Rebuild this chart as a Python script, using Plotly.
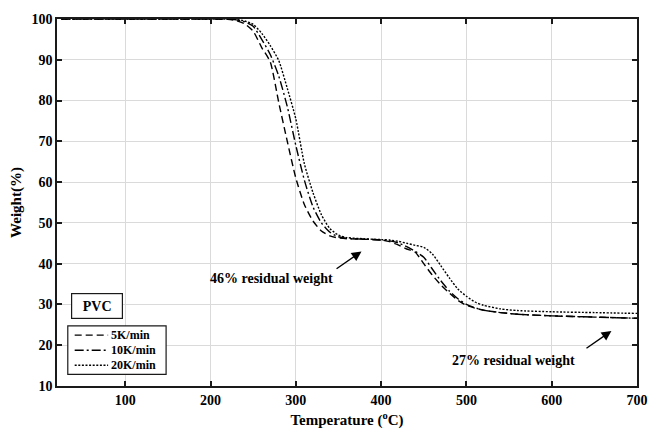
import plotly.graph_objects as go

# TGA curves of PVC at three heating rates
temperature = [25, 100, 200, 220, 230, 240, 250, 260, 270, 280, 290, 300, 310, 320,
               330, 340, 350, 360, 380, 400, 410, 420, 430, 440, 450, 460, 470, 480,
               490, 500, 510, 520, 540, 560, 600, 650, 700]

weight_5k = [100, 100, 100, 99.9, 99.6, 98.8, 97.0, 93.0, 89.5, 79.5, 70.0, 61.0, 54.5, 50.5,
             48.0, 46.8, 46.3, 46.1, 46.0, 45.8, 45.4, 44.6, 43.6, 42.8, 40.0, 37.2, 34.8, 32.8,
             31.0, 29.8, 29.1, 28.6, 28.0, 27.6, 27.2, 26.9, 26.6]

weight_10k = [100, 100, 100, 100, 99.8, 99.3, 98.2, 95.0, 91.3, 86.0, 78.5, 69.0, 60.5, 54.0,
              50.0, 47.7, 46.6, 46.2, 46.0, 45.8, 45.6, 45.1, 44.2, 43.0, 41.6, 38.7, 35.8, 33.3,
              31.4, 30.0, 29.2, 28.6, 28.0, 27.6, 27.2, 26.9, 26.6]

weight_20k = [100, 100, 100, 100, 99.9, 99.5, 98.7, 96.5, 93.5, 89.8, 83.0, 75.5, 64.5, 57.5,
              52.0, 48.6, 47.0, 46.4, 46.1, 45.9, 45.8, 45.5, 45.0, 44.5, 44.0, 42.4, 39.5, 36.5,
              33.8, 32.0, 30.6, 29.8, 28.9, 28.5, 28.2, 28.0, 27.8]

rate_labels = ["5K/min", "10K/min", "20K/min"]
dash_styles = ["7px,4px", "9px,3px,2px,3px", "2px,1.6px"]
weights = [weight_5k, weight_10k, weight_20k]

FONT = "Liberation Serif, Times New Roman, serif"
BOLD = lambda size: dict(family=FONT, size=size, color="black", weight="bold")

fig = go.Figure()
for name, w, dash in zip(rate_labels, weights, dash_styles):
    fig.add_trace(go.Scatter(
        x=temperature, y=w, mode="lines", name=name, showlegend=False,
        line=dict(color="black", width=1.4, dash=dash, shape="spline", smoothing=0.6),
    ))

axis_common = dict(
    showline=True, linecolor="#1a1a1a", linewidth=1.5, mirror="ticks",
    ticks="inside", ticklen=5, tickcolor="#1a1a1a", tickwidth=1.5,
    showgrid=True, gridcolor="#dadada", gridwidth=1, zeroline=False,
    tickfont=BOLD(14),
)

fig.update_xaxes(
    range=[20, 700], tickmode="array", tickvals=[100, 200, 300, 400, 500, 600, 700],
    title=dict(text="Temperature (<sup>o</sup>C)", standoff=8, font=BOLD(15)),
    **axis_common,
)
fig.update_yaxes(
    range=[10, 100], dtick=10, tick0=10,
    title=dict(text="Weight(%)", standoff=6, font=BOLD(15)),
    **axis_common,
)

annotations = [
    dict(x=272, y=36.3, xref="x", yref="y", text="46% residual weight",
         showarrow=False, font=BOLD(14)),
    dict(x=377, y=43.0, ax=346, ay=38.5, xref="x", yref="y", axref="x", ayref="y",
         text="", showarrow=True, arrowhead=2, arrowsize=1.4, arrowwidth=1.4,
         arrowcolor="black"),
    dict(x=555, y=16.2, xref="x", yref="y", text="27% residual weight",
         showarrow=False, font=BOLD(14)),
    dict(x=670, y=23.5, ax=639, ay=19.0, xref="x", yref="y", axref="x", ayref="y",
         text="", showarrow=True, arrowhead=2, arrowsize=1.4, arrowwidth=1.4,
         arrowcolor="black"),
    dict(x=67, y=29.7, xref="x", yref="y", text="PVC", showarrow=False,
         font=BOLD(14), bordercolor="#1a1a1a", borderwidth=1.2, borderpad=1,
         width=48, height=22, bgcolor="white"),
]

# Boxed key in the lower-left corner (paper coordinates of the plot area)
shapes = [
    dict(type="rect", xref="paper", yref="paper", x0=0.0186, x1=0.1881,
         y0=0.0317, y1=0.1636, line=dict(color="#1a1a1a", width=1.2),
         fillcolor="white", layer="above"),
]
key_rows = [0.1385, 0.0976, 0.0567]
for label, dash, yk in zip(rate_labels, dash_styles, key_rows):
    shapes.append(dict(type="line", xref="paper", yref="paper", x0=0.0305, x1=0.0881,
                       y0=yk, y1=yk, line=dict(color="black", width=1.4, dash=dash),
                       layer="above"))
    annotations.append(dict(x=0.0915, y=yk, xref="paper", yref="paper", text=label,
                            showarrow=False, xanchor="left", yanchor="middle",
                            font=BOLD(12), borderpad=0))

fig.update_layout(
    width=660, height=438,
    margin=dict(l=57, r=13, t=14, b=45),
    paper_bgcolor="white", plot_bgcolor="white",
    annotations=annotations, shapes=shapes,
    showlegend=False,
)

fig.write_html("out.html")
